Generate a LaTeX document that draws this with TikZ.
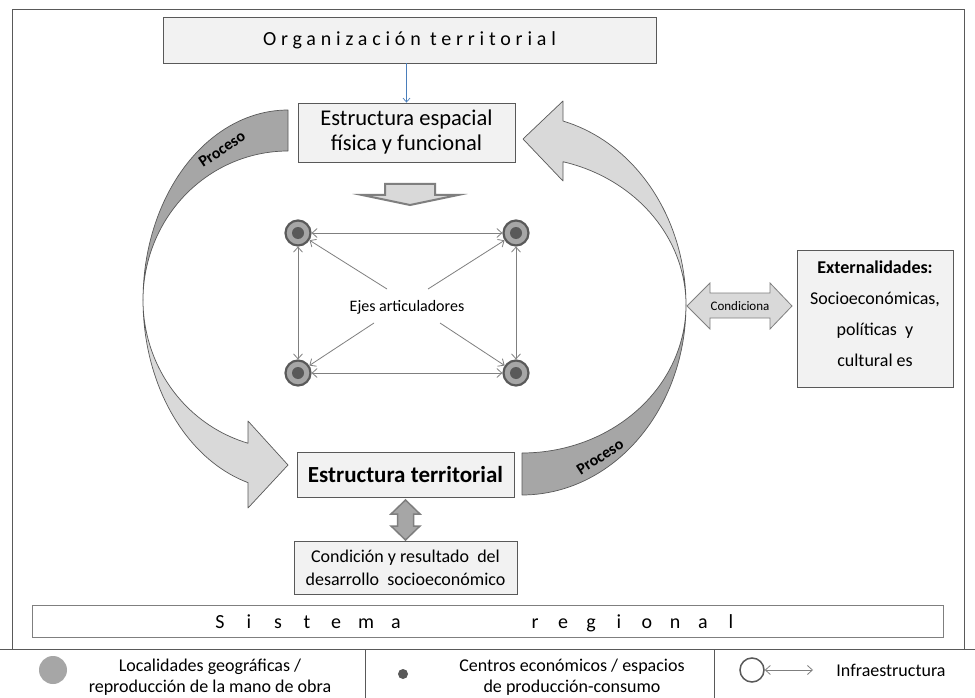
\documentclass[tikz,border=0pt]{standalone}
\usepackage{fontspec}
\setmainfont{Carlito}
\usetikzlibrary{arrows.meta}

\definecolor{boxfill}{HTML}{F2F2F2}
\definecolor{bandlight}{HTML}{D9D9D9}
\definecolor{banddark}{HTML}{A6A6A6}
\definecolor{edge}{HTML}{595959}
\definecolor{linkgray}{HTML}{7F7F7F}
\definecolor{arrowblue}{HTML}{4A7EBB}

\newcommand{\fs}[2]{\fontsize{#1}{#2}\selectfont}

\tikzset{
  panel/.style={draw=edge, fill=boxfill, line width=0.8pt, inner sep=0pt, align=center},
  band/.style={draw=edge, line width=0.7pt, line join=round},
  site/.style={circle, draw=edge, line width=2.2pt, fill=banddark, minimum size=25pt, inner sep=0pt},
  core/.style={circle, fill=edge, minimum size=12pt, inner sep=0pt},
  barb/.tip={Straight Barb[length=5pt,width=9pt,line width=0.8pt]},
  link/.style={draw=linkgray, line width=0.8pt, barb-barb},
  spoke/.style={draw=linkgray, line width=0.8pt, -barb},
  blockarrow/.style={draw=linkgray, line join=miter},
  procesolabel/.style={font=\fs{16}{18}\bfseries, inner sep=0pt},
  legendtext/.style={font=\fs{18}{21}, align=center, inner sep=0pt},
}

\begin{document}
\begin{tikzpicture}[x=1pt, y=-1pt]
\useasboundingbox (0,0) rectangle (975,698);
\fill[white] (0,0) rectangle (975,698);

% outer frame and legend grid
\draw[edge, line width=0.8pt] (12,649) -- (12,9) -- (964,9) -- (964,649);
\draw[edge, line width=0.8pt] (0,649) -- (975,649);
\draw[edge, line width=0.8pt] (365,649) -- (365,698);
\draw[edge, line width=0.8pt] (714,649) -- (714,698);

% title box
\node[panel, minimum width=493pt, minimum height=46pt,
      font=\fs{20}{24}\addfontfeatures{LetterSpace=24}] (org) at (409.5,40)
  {Organización territorial};

% spatial structure box
\node[panel, minimum width=217pt, minimum height=59pt, font=\fs{22.5}{25}] (esp) at (406.5,132.5)
  {Estructura espacial\\física y funcional};
\draw[arrowblue, line width=0.7pt, -{Straight Barb[length=4pt,width=7pt]}]
  (esp.north |- org.south) -- (esp.north);

% down block arrow
\draw[blockarrow, fill=bandlight, line width=2pt]
  (385,184) -- (435,184) -- (435,195) -- (458,195) -- (410,205) -- (362,195) -- (385,195) -- cycle;

% curved process arrow on the left: back side (dark) and front side with head (light)
\draw[band, fill=banddark]
  plot[domain=270:180, samples=50] ({288+145*cos(\x)}, {300+190*sin(\x)})
  -- plot[domain=180:270, samples=50] ({288+145*cos(\x)}, {300+149*sin(\x)}) -- cycle;
\draw[band, fill=bandlight]
  plot[domain=180:106, samples=40] ({288+145*cos(\x)}, {300+190*sin(\x)})
  -- (248,508) -- (288,465) -- (248,421)
  -- plot[domain=106:180, samples=40] ({288+145*cos(\x)}, {300+149*sin(\x)}) -- cycle;
\node[procesolabel, rotate=34] (procA) at (222,149) {Proceso};

% curved process arrow on the right
\draw[band, fill=banddark]
  plot[domain=90:0, samples=50] ({522+164*cos(\x)}, {305+190*sin(\x)})
  -- plot[domain=0:90, samples=50] ({522+164*cos(\x)}, {305+148*sin(\x)}) -- cycle;
\draw[band, fill=bandlight]
  plot[domain=0:-75.5, samples=40] ({522+164*cos(\x)}, {305+190*sin(\x)})
  -- (563,101) -- (523,139) -- (563,181)
  -- plot[domain=-75.5:0, samples=40] ({522+164*cos(\x)}, {305+148*sin(\x)}) -- cycle;
\node[procesolabel, rotate=33] (procB) at (600,457) {Proceso};

% network of localities
\node[site] (tl) at (298,233) {};
\node[site] (tr) at (516,233) {};
\node[site] (bl) at (298,373) {};
\node[site] (br) at (516,373) {};
\node[core] (tlc) at (tl) {};
\node[core] (trc) at (tr) {};
\node[core] (blc) at (bl) {};
\node[core] (brc) at (br) {};
\draw[link] (tl) -- (tr);
\draw[link] (bl) -- (br);
\draw[link] (tl) -- (bl);
\draw[link] (tr) -- (br);

\node[font=\fs{16}{18}, inner sep=0pt] (ejes) at (407,307) {Ejes articuladores};
\coordinate (dtl) at (387,289);
\coordinate (dtr) at (428,289);
\coordinate (dbl) at (374,323);
\coordinate (dbr) at (440,323);
\draw[spoke] (dtl) -- (tl);
\draw[spoke] (dtr) -- (tr);
\draw[spoke] (dbl) -- (bl);
\draw[spoke] (dbr) -- (br);

% externalities
\node[panel, minimum width=156pt, minimum height=137pt] (ext) at (875,318.5) {};
\node[align=center, inner sep=0pt, font=\fs{18}{31}] (exttext) at (875,313.5)
  {\textbf{Externalidades:}\\Socioeconómicas,\\políticas\ \ y\\cultural es};
\draw[blockarrow, fill=bandlight, line width=0.8pt]
  (687,306) -- (710,283) -- (710,293) -- (770,293) -- (770,283) -- (792,306)
  -- (770,329) -- (770,318) -- (710,318) -- (710,329) -- cycle;
\node[font=\fs{13}{15}, inner sep=0pt] (cond) at (740,306) {Condiciona};

% territorial structure
\node[panel, minimum width=217pt, minimum height=45pt, font=\fs{23}{26}\bfseries] (terr) at (405.5,474.5)
  {Estructura territorial};
\draw[blockarrow, fill=banddark, line width=1.5pt]
  (405.5,500) -- (420,514) -- (413.5,514) -- (413.5,526) -- (420,526) -- (405.5,540)
  -- (391,526) -- (397.5,526) -- (397.5,514) -- (391,514) -- cycle;
\node[panel, minimum width=223pt, minimum height=53pt, font=\fs{18}{23}] (res) at (405.5,567.5)
  {Condición y resultado\ \ del\\desarrollo\ \ socioeconómico};

% regional system band
\node[draw=linkgray, fill=white, line width=0.8pt, minimum width=911pt, minimum height=32pt, inner sep=0pt]
  (sis) at (487.5,621) {};
\foreach \ch/\px [count=\k] in {S/220, i/249, s/278, t/307, e/336, m/366, a/396,
                                r/535, e/563, g/591, i/619, o/647, n/675, a/703, l/731}
  \node[font=\fs{20}{24}, inner sep=0pt, anchor=base] (sl\k) at (\px,628) {\ch};

% legend
\node[circle, fill=banddark, minimum size=28pt, inner sep=0pt] (lgA) at (53,670) {};
\node[legendtext] (lgAt) at (210,677) {Localidades geográficas /\\reproducción de la mano de obra};
\node[circle, fill=edge, minimum size=10pt, inner sep=0pt] (lgB) at (403,674) {};
\node[legendtext] (lgBt) at (572,677) {Centros económicos / espacios\\de producción-consumo};
\node[circle, draw=edge, line width=1.5pt, minimum size=24pt, inner sep=0pt] (lgC) at (752,670) {};
\coordinate (lgCend) at (813,670);
\draw[link] (lgC) -- (lgCend);
\node[legendtext] (lgCt) at (891,670) {Infraestructura};
\end{tikzpicture}
\end{document}
